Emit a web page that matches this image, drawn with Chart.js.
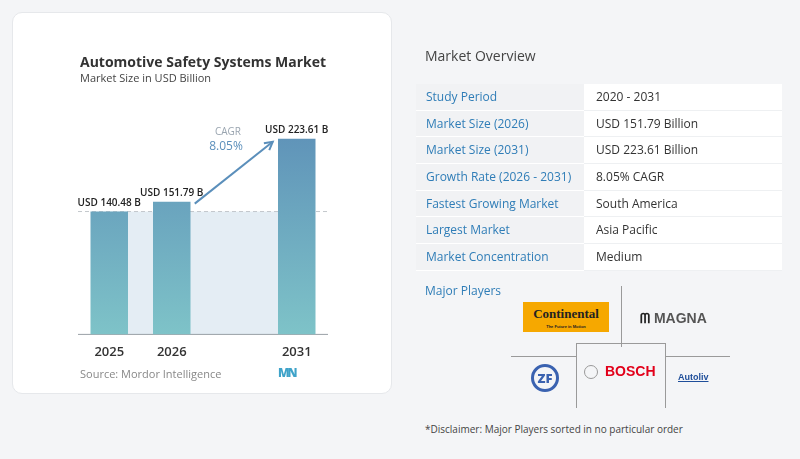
<!DOCTYPE html>
<html>
<head>
<meta charset="utf-8">
<script src="https://cdn.jsdelivr.net/npm/chart.js@4"></script>
<style>
  body { margin: 0; width: 800px; height: 459px; background: #f4f5f7; font-family: 'Open Sans', sans-serif; position: relative; overflow: hidden; }
  .card { position: absolute; left: 12px; top: 12px; width: 378px; height: 380px; background: #fff; border: 1px solid #e6e8eb; border-radius: 10px; }
  #wrap { position: absolute; left: 0; top: 0; width: 400px; height: 459px; }
  .abs { position: absolute; white-space: nowrap; }
  .rows { position: absolute; left: 416px; top: 84px; width: 366px; }
  .row { display: flex; height: 26.7px; line-height: 26.7px; font-size: 12px; }
  .row .k { width: 168px; background: #f1f2f4; color: #2f7db7; padding-left: 10px; box-sizing: border-box; border-bottom: 1px solid #fff; }
  .row .v { flex: 1; background: #fff; color: #333; padding-left: 12px; border-bottom: 1px solid #eef0f2; }
  .line { position: absolute; background: #9a9a9a; }
</style>
</head>
<body>
<div class="card"></div>
<div id="wrap"><canvas id="chart" width="400" height="459"></canvas></div>
<div class="abs" style="left:80px;top:52px;font-size:14px;font-weight:700;color:#333;">Automotive Safety Systems Market</div>
<div class="abs" style="left:80px;top:70px;font-size:11px;color:#444;">Market Size in USD Billion</div>
<div class="abs" style="left:80px;top:366px;font-size:11px;color:#888;">Source: Mordor Intelligence</div>
<div class="abs" style="left:278px;top:364px;font-size:12px;font-weight:800;color:#3fa3c9;letter-spacing:-2px;">MN</div>

<div class="abs" style="left:425px;top:46px;font-size:14px;color:#444;">Market Overview</div>
<div class="rows" id="rows"></div>
<div class="abs" style="left:425px;top:282px;font-size:12px;color:#2f7db7;">Major Players</div>

<div class="line" style="left:621px;top:286px;width:1px;height:61px;"></div>
<div class="line" style="left:511px;top:356px;width:66px;height:1px;"></div>
<div class="line" style="left:665px;top:356px;width:65px;height:1px;"></div>
<div class="line" style="left:576px;top:343px;width:89px;height:1px;"></div>
<div class="line" style="left:576px;top:343px;width:1px;height:65px;"></div>
<div class="line" style="left:665px;top:343px;width:1px;height:65px;"></div>

<div class="abs" style="left:523px;top:302px;width:86px;height:30px;background:#f6a800;text-align:center;font-family:'Liberation Serif',serif;font-weight:700;font-size:13px;color:#222;line-height:24px;">Continental<div style="font-size:4px;line-height:2px;font-family:sans-serif;">The Future in Motion</div></div>
<div class="abs" style="left:640px;top:310px;font-family:'Liberation Sans',sans-serif;font-weight:700;font-size:14px;color:#555;"><span style="color:#222">ᗰ</span> MAGNA</div>
<div class="abs" style="left:531px;top:364px;width:28px;height:28px;border:3px solid #3a62b0;border-radius:50%;box-sizing:border-box;text-align:center;font-weight:800;font-size:13px;color:#3a62b0;line-height:22px;">ZF</div>
<div class="abs" style="left:584px;top:365px;width:12px;height:12px;border:1px solid #999;border-radius:50%;"></div>
<div class="abs" style="left:605px;top:363px;font-family:'Liberation Sans',sans-serif;font-weight:700;font-size:14px;color:#e2001a;">BOSCH</div>
<div class="abs" style="left:678px;top:372px;font-family:'Liberation Sans',sans-serif;font-weight:700;font-size:9px;color:#1f4e9a;text-decoration:underline;">Autoliv</div>
<div class="abs" style="left:425px;top:422px;font-size:10px;color:#444;">*Disclaimer: Major Players sorted in no particular order</div>

<script>
const years = ['2025', '2026', '', '2031'];
const values = [140.48, 151.79, null, 223.61];
const valueLabels = ['USD 140.48 B', 'USD 151.79 B', '', 'USD 223.61 B'];
const cagr = '8.05%';

const overviewKeys = ['Study Period', 'Market Size (2026)', 'Market Size (2031)', 'Growth Rate (2026 - 2031)', 'Fastest Growing Market', 'Largest Market', 'Market Concentration'];
const overviewValues = ['2020 - 2031', 'USD 151.79 Billion', 'USD 223.61 Billion', '8.05% CAGR', 'South America', 'Asia Pacific', 'Medium'];

document.getElementById('rows').innerHTML = overviewKeys.map((k, i) =>
  '<div class="row"><div class="k">' + k + '</div><div class="v">' + overviewValues[i] + '</div></div>').join('');

// fondo, linea tratteggiata, freccia ed etichette
const extras = {
  id: 'extras',
  beforeDatasetsDraw(chart) {
    const { ctx, scales: { x, y } } = chart;
    const base = y.getPixelForValue(values[0]);
    const bottom = y.getPixelForValue(0);
    ctx.save();
    ctx.fillStyle = '#e4edf4';
    ctx.fillRect(x.getPixelForValue(0), base, x.getPixelForValue(3) - x.getPixelForValue(0), bottom - base);
    ctx.setLineDash([4, 3]);
    ctx.strokeStyle = '#c4c8cc';
    ctx.beginPath();
    ctx.moveTo(x.left, base); ctx.lineTo(x.right, base); ctx.stroke();
    ctx.setLineDash([]);
    ctx.strokeStyle = '#9aa0a6';
    ctx.beginPath(); ctx.moveTo(x.left, bottom); ctx.lineTo(x.right, bottom); ctx.stroke();
    ctx.restore();
  },
  afterDatasetsDraw(chart) {
    const { ctx, scales: { x, y } } = chart;
    ctx.save();
    ctx.font = '600 10px "Open Sans"';
    ctx.fillStyle = '#222';
    ctx.textAlign = 'center';
    values.forEach((v, i) => {
      if (v == null) return;
      ctx.fillText(valueLabels[i], x.getPixelForValue(i), y.getPixelForValue(v) - 6);
    });
    // freccia CAGR
    const x1 = x.getPixelForValue(1) + 23, y1 = y.getPixelForValue(values[1]) + 2;
    const x2 = x.getPixelForValue(3) - 24, y2 = y.getPixelForValue(values[3]) + 3;
    ctx.strokeStyle = '#5b8fbb'; ctx.lineWidth = 2;
    ctx.beginPath(); ctx.moveTo(x1, y1); ctx.lineTo(x2, y2); ctx.stroke();
    const a = Math.atan2(y2 - y1, x2 - x1);
    ctx.beginPath();
    ctx.moveTo(x2 - 9 * Math.cos(a - 0.5), y2 - 9 * Math.sin(a - 0.5));
    ctx.lineTo(x2, y2);
    ctx.lineTo(x2 - 9 * Math.cos(a + 0.5), y2 - 9 * Math.sin(a + 0.5));
    ctx.stroke();
    ctx.fillStyle = '#9aa5b0'; ctx.font = '10px "Open Sans"';
    ctx.fillText('CAGR', 228, 135);
    ctx.fillStyle = '#5b8fbb'; ctx.font = '12px "Open Sans"';
    ctx.fillText(cagr, 226, 150);
    ctx.restore();
  }
};

new Chart(document.getElementById('chart'), {
  type: 'bar',
  data: {
    labels: years,
    datasets: [{
      data: values,
      backgroundColor: (c) => {
        const area = c.chart.chartArea;
        if (!area) return '#6a9fc0';
        const g = c.chart.ctx.createLinearGradient(0, area.top, 0, area.bottom);
        g.addColorStop(0, '#5a8bb6');
        g.addColorStop(1, '#7ec3c8');
        return g;
      },
      barPercentage: 0.6,
      categoryPercentage: 1
    }]
  },
  options: {
    responsive: false,
    animation: false,
    devicePixelRatio: 1,
    layout: { padding: { left: 78, right: 72, top: 100, bottom: 97 } },
    plugins: { legend: { display: false }, tooltip: { enabled: false } },
    scales: {
      x: {
        grid: { display: false }, border: { display: false },
        ticks: { color: '#333', font: { family: 'Open Sans', size: 13, weight: '600' }, padding: 2 }
      },
      y: { display: false, min: 0, max: 268 }
    }
  },
  plugins: [extras]
});
</script>
</body>
</html>
